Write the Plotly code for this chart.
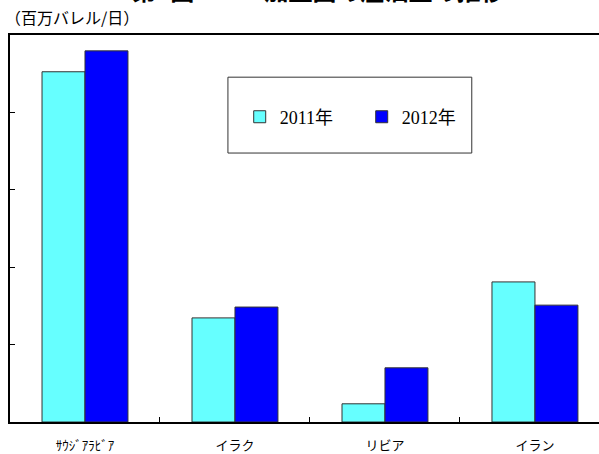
import plotly.graph_objects as go

countries = ["ｻｳｼﾞｱﾗﾋﾞｱ", "イラク", "リビア", "イラン"]
y2011 = [9.05, 2.69, 0.47, 3.62]
y2012 = [9.59, 2.97, 1.40, 3.02]
series_names = ["2011年", "2012年"]

fig = go.Figure()
fig.add_trace(go.Bar(x=countries, y=y2011, name=series_names[0],
                     marker=dict(color="#66FFFF", line=dict(color="#333333", width=1))))
fig.add_trace(go.Bar(x=countries, y=y2012, name=series_names[1],
                     marker=dict(color="#0000FF", line=dict(color="#333333", width=1))))

fig.update_layout(
    width=599, height=454,
    margin=dict(l=10, r=0, t=35, b=32, autoexpand=False),
    paper_bgcolor="white", plot_bgcolor="white",
    barmode="group", bargap=0.427, bargroupgap=0,
    font=dict(family="Liberation Serif, Noto Sans CJK JP", color="black"),
    showlegend=True,
    legend=dict(orientation="h", x=0.390, y=0.788, xanchor="left", yanchor="middle",
                bgcolor="rgba(0,0,0,0)", borderwidth=0, itemwidth=30,
                entrywidth=77, font=dict(size=18, family="Liberation Serif, Noto Sans CJK JP")),
    shapes=[dict(type="rect", xref="paper", yref="paper", x0=0.370, x1=0.784, y0=0.695, y1=0.891,
                 line=dict(color="#333333", width=1), fillcolor="white", layer="below")],
    annotations=[
        dict(text="<b>第1図 OPEC加盟国の産油量の推移</b>", xref="paper", yref="paper",
             x=0.523, y=1.066, xanchor="center", yanchor="bottom", showarrow=False,
             font=dict(size=24, family="Noto Sans CJK JP")),
        dict(text="（百万バレル/日）", xref="paper", yref="paper", x=-0.0119, y=1.0465,
             xanchor="left", yanchor="middle", showarrow=False,
             font=dict(size=16, family="Noto Sans CJK JP")),
    ],
)
fig.update_xaxes(range=[-0.5, 3.427], showline=True, linecolor="black", linewidth=2, mirror=True,
                 ticks="inside", ticklen=5, tickcolor="black", tickson="boundaries",
                 tickfont=dict(size=13, family="Noto Sans CJK JP"), ticklabelstandoff=10,
                 showgrid=False, automargin=False)
fig.update_yaxes(range=[0, 10], dtick=2, showline=True, linecolor="black", linewidth=1.5,
                 ticks="inside", ticklen=5, tickcolor="black", showticklabels=False,
                 showgrid=False, zeroline=False, automargin=False)

# page body has a default 8px margin; drop it so the figure sits at the window corner
fig.write_html("out.html", config={"displayModeBar": False},
               post_script="document.body.style.margin='0';")
